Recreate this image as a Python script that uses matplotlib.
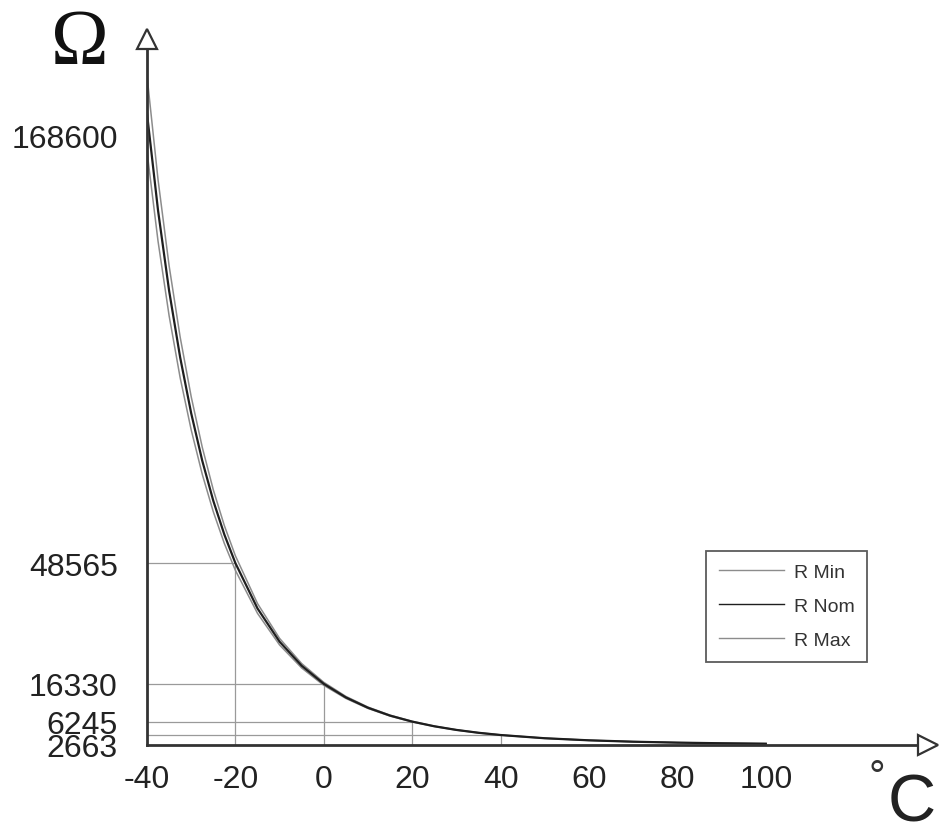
import matplotlib.pyplot as plt
from matplotlib.transforms import ScaledTranslation

# NTC resistance vs temperature (ohm)
temps = [-40, -37.5, -35, -32.5, -30, -27.5, -25, -22.5, -20, -15, -10, -5, 0, 5, 10,
         15, 20, 25, 30, 35, 40, 50, 60, 70, 80, 90, 100]
r_nom = [168600, 142700, 121300, 103500, 88560, 75900, 65200, 56190, 48565, 36460, 27580,
         21150, 16330, 12700, 9940, 7846, 6245, 5000, 4025, 3263, 2663, 1803, 1248, 881,
         633, 463, 344]
r_min = [158500, 134490, 114630, 98070, 84130, 72290, 62270, 53800, 46620, 35150, 26700,
         20560, 15920, 12430, 9760, 7730, 6170, 4950, 3977, 3217, 2620, 1767, 1218, 856,
         613, 446, 330]
r_max = [178700, 150910, 127970, 108930, 92990, 79510, 68130, 58580, 50510, 37770, 28460,
         21740, 16740, 12970, 10120, 7960, 6320, 5050, 4073, 3309, 2706, 1839, 1278, 906,
         653, 480, 358]

guide_temps = [-20, 0, 20, 40]
tick_marks = [-20, 0, 20, 40, 60]
x_ticks = [-40, -20, 0, 20, 40, 60, 80, 100]
y_ticks = [2663, 6245, 16330, 48565, 168600]

W, H = 939, 829
fig = plt.figure(figsize=(W / 100, H / 100), dpi=100)
ax = fig.add_axes([147 / W, 1 - 746 / H, (928 - 147) / W, (746 - 40) / H])

axis_col = '#333333'
grid_col = '#9a9a9a'

ax.plot(temps, r_min, color='#8c8c8c', lw=1.1, label='R Min', zorder=2)
ax.plot(temps, r_nom, color='#1e1e1e', lw=1.6, label='R Nom', zorder=3)
ax.plot(temps, r_max, color='#8c8c8c', lw=1.1, label='R Max', zorder=2)

guide_vals = [r_nom[temps.index(t)] for t in guide_temps]
ax.hlines(guide_vals, -40, guide_temps, color=grid_col, lw=0.9, zorder=1)
ax.vlines(guide_temps, 0, guide_vals, color=grid_col, lw=0.9, zorder=1)

ax.set_xlim(-40, -40 + (928 - 147) / 4.42)
ax.set_ylim(0, 706 * 267)

for s in ['top', 'right']:
    ax.spines[s].set_visible(False)
for s in ['left', 'bottom']:
    ax.spines[s].set_color(axis_col)
    ax.spines[s].set_linewidth(2.0)
    ax.spines[s].set_zorder(4)

ax.plot(1, 0, marker='>', ms=14, mfc='white', mec=axis_col, mew=1.6,
        transform=ax.transAxes, clip_on=False, zorder=5)
ax.plot(0, 1, marker='^', ms=14, mfc='white', mec=axis_col, mew=1.6,
        transform=ax.transAxes, clip_on=False, zorder=5)

font = 'Liberation Sans'
ax.set_xticks(x_ticks)
ax.set_xticklabels([str(v) for v in x_ticks], fontsize=23, family=font, color='#222222')
ax.set_xticks(tick_marks, minor=True)
ax.tick_params(axis='x', which='major', length=0, pad=14)
ax.tick_params(axis='x', which='minor', length=5, width=0.9, color=grid_col, direction='out')

ax.set_yticks(y_ticks)
ax.set_yticklabels([str(v) for v in y_ticks], fontsize=23, family=font, color='#222222')
ax.tick_params(axis='y', length=0, pad=21)

# hand-placed labels in the original sit a bit lower than their values
shift = {168600: -16, 2663: -6.5}
for val, lbl in zip(y_ticks, ax.get_yticklabels()):
    if val in shift:
        lbl.set_transform(lbl.get_transform() +
                          ScaledTranslation(0, shift[val] / 72, fig.dpi_scale_trans))

leg = ax.legend(loc='upper left', bbox_to_anchor=(706 / W, 1 - 552 / H),
                bbox_transform=fig.transFigure, borderaxespad=0, fancybox=False,
                edgecolor=axis_col, handlelength=3.35, handletextpad=0.5,
                labelspacing=0.84, borderpad=0.65, prop={'family': font, 'size': 14})
leg.get_frame().set_linewidth(1.3)
for t in leg.get_texts():
    t.set_color('#333333')
for h in leg.get_lines():
    h.set_linewidth(1.0)

fig.text(80 / W, 1 - 63 / H, 'Ω', fontsize=56, family='Liberation Serif',
         ha='center', va='baseline', color='#111111')
fig.text(877 / W, 1 - 790 / H, '°', fontsize=30, family=font,
         ha='center', va='baseline', color='#333333')
fig.text(888 / W, 1 - 822 / H, 'C', fontsize=48, family=font,
         ha='left', va='baseline', color='#222222')

fig.savefig('out.png', dpi=100)
plt.close('all')
